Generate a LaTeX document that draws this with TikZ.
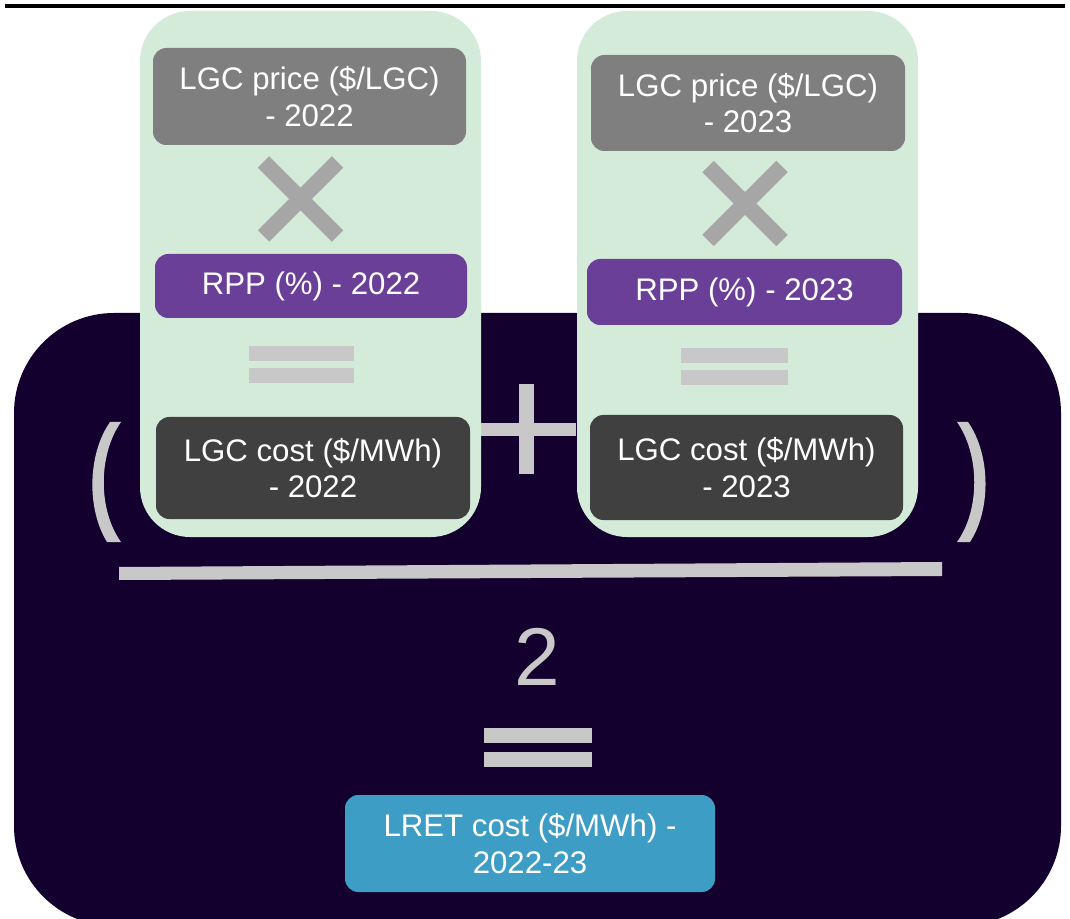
\documentclass[tikz,border=0pt]{standalone}
\usepackage{fontspec}
\setmainfont{Liberation Sans}
\definecolor{bgdark}{HTML}{13002E}
\definecolor{greenbox}{HTML}{D5EBDA}
\definecolor{pricegray}{HTML}{7F7F7F}
\definecolor{rpppurple}{HTML}{6A3F98}
\definecolor{costgray}{HTML}{404040}
\definecolor{timesgray}{HTML}{A6A6A6}
\definecolor{symgray}{HTML}{C8C8C8}
\definecolor{lretblue}{HTML}{3E9DC4}
\tikzset{
  txtbox/.style={rounded corners=10pt, inner sep=0pt, align=center, text=white,
    font=\fontsize{23.4}{27.5}\selectfont},
  grnbox/.style={fill=greenbox, rounded corners=37.5pt, inner sep=0pt,
    minimum width=255.75pt, minimum height=394.5pt},
  symfill/.style={fill=symgray},
  timesline/.style={draw=timesgray, line width=12pt, line cap=butt}
}
\begin{document}
\begin{tikzpicture}[x=0.75pt,y=-0.75pt]
\useasboundingbox (0,0) rectangle (1070,919);
\clip (0,0) rectangle (1070,919);
% top rule
\draw[line width=2.4pt,black] (5,6) -- (1065,6);
% dark background
\fill[bgdark, rounded corners=75pt] (14,313) rectangle (1061,926);
% plus sign
\fill[symfill] (481,423) rectangle (576,436);
\fill[symfill] (519,384) rectangle (534,474);
% green panels
\node[grnbox] (gL) at (310.5,274) {};
\node[grnbox] (gR) at (747.5,274) {};
% left column
\node[txtbox, fill=pricegray, minimum width=234.75pt, minimum height=72.75pt] (pL) at (309.5,96.5) {LGC price (\$/LGC)\\- 2022};
\draw[timesline] (263.5,162) -- (337.5,236);
\draw[timesline] (337.5,162) -- (263.5,236);
\node[txtbox, fill=rpppurple, minimum width=234pt, minimum height=48pt] (rL) at (311,286) {RPP (\%) - 2022};
\fill[symfill] (249,346) rectangle (354,361);
\fill[symfill] (249,368) rectangle (354,383);
\node[txtbox, fill=costgray, minimum width=235.5pt, minimum height=76.5pt] (cL) at (313,468) {LGC cost (\$/MWh)\\- 2022};
% right column
\node[txtbox, fill=pricegray, minimum width=235.5pt, minimum height=72pt] (pR) at (748,103) {LGC price (\$/LGC)\\- 2023};
\draw[timesline] (708,166.5) -- (782,240.5);
\draw[timesline] (782,166.5) -- (708,240.5);
\node[txtbox, fill=rpppurple, minimum width=236.25pt, minimum height=49.5pt] (rR) at (744.5,292) {RPP (\%) - 2023};
\fill[symfill] (681,348) rectangle (788,363);
\fill[symfill] (681,370) rectangle (788,385);
\node[txtbox, fill=costgray, minimum width=234.75pt, minimum height=78.75pt] (cR) at (746.5,467.5) {LGC cost (\$/MWh)\\- 2023};
% parentheses
\fill[symfill] (110,422) .. controls (87,455) and (87,510) .. (107,542) -- (121,542) .. controls (98,510) and (98,455) .. (121,422) -- cycle;
\fill[symfill] (968,422) .. controls (991,455) and (991,510) .. (970,542) -- (957,542) .. controls (980,510) and (980,455) .. (957,422) -- cycle;
% fraction bar
\fill[symfill] (119,567) -- (942,562) -- (942,576) -- (119,580) -- cycle;
% denominator
\node[text=symgray, inner sep=0pt, font=\fontsize{61.5}{70}\selectfont] (two) at (537,656.5) {2};
% equals
\fill[symfill] (484,728) rectangle (592,743);
\fill[symfill] (484,752) rectangle (592,767);
% result
\node[txtbox, fill=lretblue, minimum width=277.5pt, minimum height=72.75pt] (lret) at (530,843.5) {LRET cost (\$/MWh) -\\2022-23};
\end{tikzpicture}
\end{document}
